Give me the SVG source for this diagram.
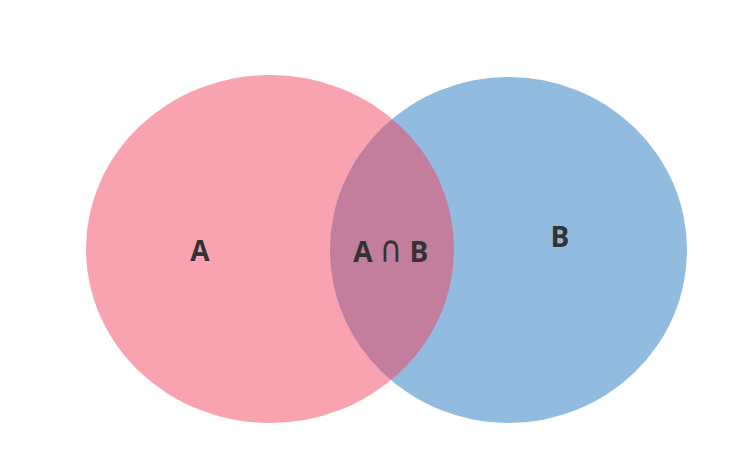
<svg xmlns="http://www.w3.org/2000/svg" width="736" height="474" viewBox="0 0 736 474">
<style>
.lbl{font-family:"Open Sans","Noto Sans","DejaVu Sans",sans-serif;font-weight:bold;font-size:28px;fill:#333333;text-anchor:middle}
.cap{font-family:"DejaVu Sans",sans-serif;font-weight:normal;font-size:24px;fill:#333333;text-anchor:middle}
</style>
<defs>
<clipPath id="clipA"><ellipse cx="270" cy="249" rx="184" ry="174"/></clipPath>
</defs>
<rect width="736" height="474" fill="#ffffff"/>
<g id="setA"><ellipse cx="270" cy="249" rx="184" ry="174" fill="#F9A3B1"/></g>
<g id="setB"><ellipse cx="508.5" cy="250" rx="178.5" ry="173" fill="#92BBE0"/></g>
<g id="intersection"><ellipse cx="508.5" cy="250" rx="178.5" ry="173" fill="#C47E9D" clip-path="url(#clipA)"/></g>
<g id="labels">
<text class="lbl" x="200" y="261">A</text>
<text class="lbl" x="363" y="262">A</text>
<text class="cap" transform="translate(391,262) scale(1.3,1.55)">∩</text>
<text class="lbl" x="419" y="262">B</text>
<text class="lbl" x="560" y="247">B</text>
</g>
</svg>
